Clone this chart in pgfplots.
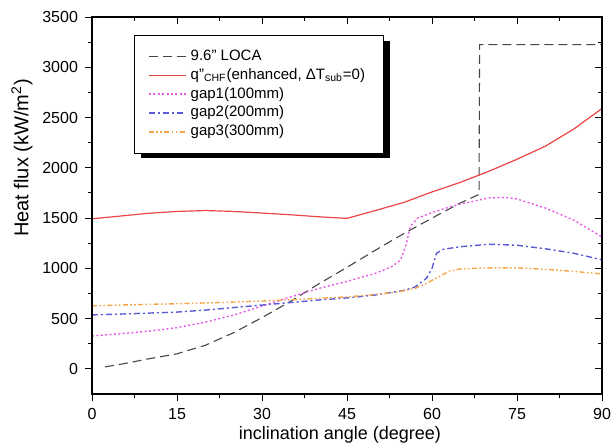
\documentclass[border=0pt]{standalone}
\usepackage{fontspec}
\setmainfont{Liberation Sans}
\usepackage{pgfplots}
\pgfplotsset{compat=1.18}
\definecolor{cred}{RGB}{235,70,70}
\definecolor{cmag}{RGB}{230,90,230}
\definecolor{cblue}{RGB}{90,90,215}
\definecolor{corange}{RGB}{245,165,70}
\definecolor{cloca}{RGB}{70,70,70}
\begin{document}
\begin{tikzpicture}
\begin{axis}[
  name=main,
  scale only axis,
  width=255pt, height=188.5pt,
  xmin=0, xmax=90, ymin=-250, ymax=3500,
  xtick={0,15,...,90}, ytick={0,500,...,3500},
  minor x tick num=1, minor y tick num=1,
  xtick pos=left, ytick pos=left,
  tick align=outside,
  major tick length=3.5pt, minor tick length=2pt,
  every tick/.style={black, line width=0.5pt},
  axis line style={line width=0.6pt},
  ticklabel style={font=\fontsize{8}{9}\selectfont},
  /pgf/number format/assume math mode=true,
  /pgf/number format/set thousands separator={},
  xlabel={inclination angle (degree)},
  ylabel={Heat flux (kW/m\textsuperscript{2})},
  every axis x label/.style={at={(axis description cs:0.486,0)}, yshift=-20.5pt, anchor=center, font=\fontsize{9}{10}\selectfont},
  every axis y label/.style={at={(axis description cs:0,0.626)}, xshift=-35pt, rotate=90, anchor=center, font=\fontsize{10}{11}\selectfont},
  legend cell align=left,
  legend image code/.code={\draw[#1] plot coordinates {(0pt,0pt) (18.5pt,0pt)};},
  legend style={at={(0.082,0.953)}, anchor=north west, draw=black, line width=0.5pt, fill=white,
    font=\fontsize{7.5}{8.5}\selectfont, inner xsep=7pt, inner ysep=5.3pt, row sep=-1.5pt},
]
\fill[black] (axis description cs:0.096,0.626) rectangle (axis description cs:0.584,0.936);
\addplot[cloca, line width=0.55pt, dash pattern=on 4.5pt off 2.5pt] coordinates {
(2.3,20) (5,45) (10,100) (15,150) (20,235) (25,360) (30,510) (35,670) (40,845) (45,1010)
(50,1180) (55,1345) (60,1500) (65,1650) (68.3,1735) (68.4,3225) (90,3225)};
\addlegendentry{9.6" LOCA}
\addplot[cred, line width=0.6pt] coordinates {
(0,1493) (5,1520) (10,1548) (15,1566) (20,1575) (25,1566) (30,1550) (35,1533) (40,1513) (45,1497)
(50,1575) (55,1655) (60,1760) (65,1855) (70,1965) (75,2085) (80,2215) (85,2385) (90,2590)};
\addlegendentry{q"\textsubscript{CHF}(enhanced, ΔT\textsubscript{sub}=0)}
\addplot[cmag, line width=0.7pt, dash pattern=on 1pt off 1.2pt] coordinates {
(0,328) (5,350) (10,375) (15,410) (20,465) (25,535) (30,625) (35,715) (40,800) (45,870)
(50,950) (53,1020) (54.5,1085) (55.5,1250) (56.2,1420) (57.5,1500) (60,1555) (62.5,1600)
(65,1640) (70,1700) (73,1705) (75,1690) (80,1600) (85,1480) (90,1313)};
\addlegendentry{gap1(100mm)}
\addplot[cblue, line width=0.7pt, dash pattern=on 3pt off 1.5pt on 1pt off 1.5pt] coordinates {
(0,537) (5,545) (10,555) (15,565) (20,585) (25,610) (30,635) (35,660) (40,685) (45,706)
(50,735) (55,780) (57,815) (59,900) (60,1000) (60.8,1150) (62,1190) (65,1215) (70,1240)
(75,1230) (80,1195) (85,1150) (90,1085)};
\addlegendentry{gap2(200mm)}
\addplot[corange, line width=0.7pt, dash pattern=on 2.5pt off 1.2pt on 0.8pt off 1.2pt on 0.8pt off 1.2pt] coordinates {
(0,627) (5,635) (10,642) (15,648) (20,656) (25,665) (30,675) (35,688) (40,702) (45,716)
(50,740) (54,766) (57,800) (59,850) (61,910) (63,970) (65,995) (70,1005) (75,1005)
(80,990) (85,970) (90,945)};
\addlegendentry{gap3(300mm)}
\end{axis}
\begin{axis}[
  scale only axis,
  width=255pt, height=188.5pt,
  xmin=0, xmax=90, ymin=-250, ymax=3500,
  xtick={0,15,...,90}, ytick={0,500,...,3500},
  minor x tick num=1, minor y tick num=1,
  xtick pos=right, ytick pos=right,
  tick align=inside,
  major tick length=3.5pt, minor tick length=2pt,
  every tick/.style={black, line width=0.5pt},
  axis line style={line width=0.6pt},
  xticklabels={}, yticklabels={},
]
\end{axis}
\pgfresetboundingbox
\path ([shift={(-46pt,-26pt)}]main.south west) rectangle ([shift={(4.5pt,8.5pt)}]main.north east);
\end{tikzpicture}
\end{document}
